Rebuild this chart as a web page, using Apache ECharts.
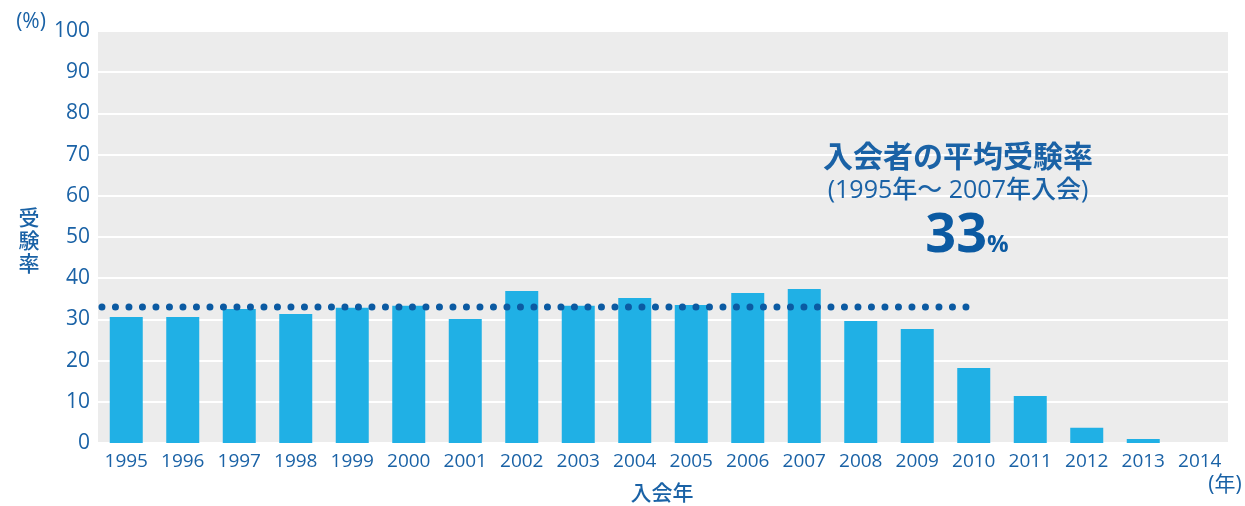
<!DOCTYPE html>
<html>
<head>
<meta charset="utf-8">
<script src="https://cdn.jsdelivr.net/npm/echarts@6/dist/echarts.min.js"></script>
<style>
  html, body { margin: 0; padding: 0; background: #ffffff; }
  #chart { width: 1245px; height: 506px; }
</style>
</head>
<body>
<div id="chart"></div>
<script>
// Entry year of members
const years = ['1995','1996','1997','1998','1999','2000','2001','2002','2003','2004',
               '2005','2006','2007','2008','2009','2010','2011','2012','2013','2014'];
// Exam-taking rate (%) by entry year
const rates = [30.6, 30.6, 32.5, 31.3, 32.8, 33.3, 30.1, 36.9, 33.3, 35.2,
               33.5, 36.4, 37.4, 29.6, 27.7, 18.2, 11.4, 3.7, 1.0, 0];
// Average rate for members who joined 1995–2007
const averageRate = 33;
// Year span covered by the dotted average line
const averageSpan = [1994.57, 2009.92];
// Y axis ticks
const yTicks = { min: 0, max: 100, interval: 10 };

const TEXT = '#1a62a6';
const DARK = '#0b5aa2';
const FONT = "'Open Sans', 'Noto Sans CJK JP', sans-serif";

function label(opts, style) {
  return Object.assign({ type: 'text', silent: true, z: 100 }, opts, {
    style: Object.assign({ fill: TEXT, fontFamily: FONT, stroke: null, lineWidth: 0 }, style)
  });
}

const chart = echarts.init(document.getElementById('chart'), null, { renderer: 'canvas' });

chart.setOption({
  animation: false,
  textStyle: { fontFamily: FONT },
  grid: {
    left: 98, right: 17, top: 31, bottom: 63,
    show: true, backgroundColor: '#ececec', borderWidth: 0
  },
  xAxis: [
    {
      type: 'category',
      data: years,
      axisLine: { show: false },
      axisTick: { show: false },
      axisLabel: { color: TEXT, fontSize: 19, margin: 9, interval: 0, fontFamily: FONT }
    },
    {
      type: 'value',
      min: 1994.5, max: 2014.5,
      show: false
    }
  ],
  yAxis: {
    type: 'value',
    min: yTicks.min, max: yTicks.max, interval: yTicks.interval,
    axisLine: { show: false },
    axisTick: { show: false },
    axisLabel: { color: TEXT, fontSize: 21, margin: 8, fontFamily: FONT },
    splitLine: { lineStyle: { color: '#ffffff', width: 2 } }
  },
  series: [
    {
      type: 'bar',
      data: rates,
      barWidth: 33,
      itemStyle: { color: '#20b0e5' },
      z: 2
    },
    {
      type: 'line',
      xAxisIndex: 1,
      data: [[averageSpan[0], averageRate], [averageSpan[1], averageRate]],
      symbol: 'none',
      lineStyle: { color: DARK, width: 7, type: [0, 13.5], cap: 'round' },
      z: 3
    }
  ],
  graphic: [
    label({ x: 31, y: 22 }, { text: '(%)', fontSize: 21, align: 'center', verticalAlign: 'middle' }),
    label({ x: 29, y: 242 }, { text: '受\n験\n率', fontSize: 21, fontWeight: 500, lineHeight: 23,
                                align: 'center', verticalAlign: 'middle' }),
    label({ x: 662, y: 494 }, { text: '入会年', fontSize: 21, fontWeight: 500,
                                 align: 'center', verticalAlign: 'middle' }),
    label({ x: 1225, y: 485 }, { text: '(年)', fontSize: 21, align: 'center', verticalAlign: 'middle' }),
    label({ x: 958, y: 158 }, { text: '入会者の平均受験率', fontSize: 30, fontWeight: 'bold',
                                 align: 'center', verticalAlign: 'middle' }),
    label({ x: 958, y: 191 }, { text: '(1995年～ 2007年入会)', fontSize: 25, fontWeight: 500,
                                 align: 'center', verticalAlign: 'middle' }),
    label({ x: 967, y: 237 }, {
      text: '{big|' + averageRate + '}{pct|%}',
      align: 'center', verticalAlign: 'middle',
      rich: {
        big: { fill: DARK, fontFamily: FONT, fontSize: 54, fontWeight: 'bold' },
        pct: { fill: DARK, fontFamily: FONT, fontSize: 24, fontWeight: 'bold', padding: [16, 0, 0, 0] }
      }
    })
  ]
});
</script>
</body>
</html>
